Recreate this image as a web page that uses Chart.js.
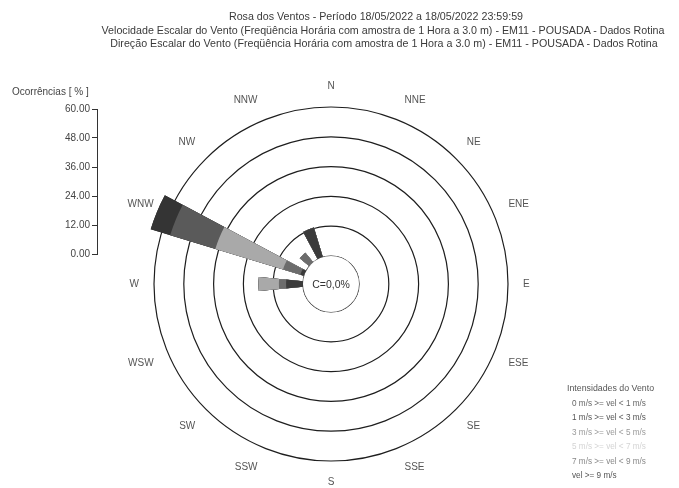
<!DOCTYPE html>
<html>
<head>
<meta charset="utf-8">
<script src="https://cdn.jsdelivr.net/npm/chart.js@4.4.0/dist/chart.umd.min.js"></script>
<style>
  html, body { margin: 0; padding: 0; background: #fff; }
  #wrap { position: relative; width: 679px; height: 488px; overflow: hidden; font-family: 'Liberation Sans', Arial, sans-serif; }
  canvas { position: absolute; }
  #rose { left: 0; top: 0; }
  #axis { left: 0; top: 100px; }
  .tl { position: absolute; transform: translateX(-50%); white-space: nowrap; font-size: 10.7px; line-height: 12px; color: #3a3a3a; }
  #ylab { position: absolute; left: 12px; top: 86px; font-size: 10px; line-height: 12px; color: #444; white-space: nowrap; }
  .lg { position: absolute; white-space: nowrap; font-size: 8.2px; line-height: 10px; }
</style>
</head>
<body>
<div id="wrap">
  <canvas id="rose" width="679" height="488"></canvas>
  <canvas id="axis" width="100" height="162"></canvas>
  <div id="ylab">Ocorrências [ % ]</div>
  <div id="texts"></div>
</div>
<script>
// wind rose - 18/05/2022, EM11 POUSADA
const titleLines = [
    'Rosa dos Ventos - Período  18/05/2022 a 18/05/2022 23:59:59',
    'Velocidade Escalar do Vento (Freqüência Horária com amostra de 1 Hora a 3.0 m) - EM11 - POUSADA - Dados Rotina',
    'Direção Escalar do Vento (Freqüência Horária com amostra de 1 Hora a 3.0 m) - EM11 - POUSADA - Dados Rotina'
];
const directions = ['N', 'NNE', 'NE', 'ENE', 'E', 'ESE', 'SE', 'SSE', 'S', 'SSW', 'SW', 'WSW', 'W', 'WNW', 'NW', 'NNW'];
const speedClasses = [
    '0 m/s >= vel < 1 m/s',
    '1 m/s >= vel < 3 m/s',
    '3 m/s >= vel < 5 m/s',
    '5 m/s >= vel < 7 m/s',
    '7 m/s >= vel < 9 m/s',
    'vel >= 9 m/s'
];
// % of occurrences per direction (same order as directions)
const vel0to1 = [0, 0, 0, 0, 0, 0, 0, 0, 0, 0, 0, 0, 6.8, 1.6, 0, 12.5];
const vel1to3 = [0, 0, 0, 0, 0, 0, 0, 0, 0, 0, 0, 0, 2.9, 7.3, 5.0, 0];
const vel3to5 = [0, 0, 0, 0, 0, 0, 0, 0, 0, 0, 0, 0, 8.2, 28.5, 0, 0];
const vel5to7 = [0, 0, 0, 0, 0, 0, 0, 0, 0, 0, 0, 0, 0, 19.0, 0, 0];
const vel7to9 = [0, 0, 0, 0, 0, 0, 0, 0, 0, 0, 0, 0, 0, 8.2, 0, 0];
const vel9up = [0, 0, 0, 0, 0, 0, 0, 0, 0, 0, 0, 0, 0, 0, 0, 0];
const calmPct = 0.0;
const ringTicks = [0, 12, 24, 36, 48, 60];

const classValues = [vel0to1, vel1to3, vel3to5, vel5to7, vel7to9, vel9up];
const classColors = ['#3b3b3b', '#6c6c6c', '#a9a9a9', '#5a5a5a', '#343434', '#2c2c2c'];
const legendColors = ['#666', '#555', '#999', '#d4d4d4', '#888', '#555'];
const fontFamily = "'Liberation Sans', Arial, sans-serif";

// each direction gets a slot for its petal plus an empty slot -> petals are half a sector wide
const slotLabels = [];
directions.forEach(d => slotLabels.push(d, ''));
function toSlots(values) {
    const out = [];
    values.forEach(v => out.push(v, 0));
    return out;
}

// stacked petals: cumulative radius, first dataset is drawn on top
let running = directions.map(() => 0);
const datasets = classValues.map((vals, k) => {
    running = running.map((r, i) => r + vals[i]);
    return {
        label: speedClasses[k],
        data: toSlots(running),
        backgroundColor: classColors[k],
        borderWidth: 0
    };
});

const calmPlugin = {
    id: 'calm',
    afterDatasetsDraw(chart) {
        const r = chart.scales.r;
        const ctx = chart.ctx;
        const rad = r.getDistanceFromCenterForValue(0);
        ctx.save();
        ctx.beginPath();
        ctx.arc(r.xCenter, r.yCenter, rad, 0, Math.PI * 2);
        ctx.fillStyle = '#fff';
        ctx.fill();
        ctx.font = '10.5px ' + fontFamily;
        ctx.fillStyle = '#333';
        ctx.textAlign = 'center';
        ctx.textBaseline = 'middle';
        ctx.fillText('C=' + calmPct.toFixed(1).replace('.', ',') + '%', r.xCenter, r.yCenter + 1);
        ctx.restore();
    }
};

new Chart(document.getElementById('rose'), {
    type: 'polarArea',
    data: { labels: slotLabels, datasets: datasets },
    plugins: [calmPlugin],
    options: {
        responsive: false,
        animation: false,
        layout: { padding: { top: 80, bottom: 0, left: 0, right: 17 } },
        plugins: {
            legend: { display: false },
            tooltip: { enabled: false }
        },
        scales: {
            r: {
                z: 1,
                min: -11.28,
                max: 60,
                bounds: 'data',
                startAngle: -5.625,
                afterBuildTicks: (scale) => { scale.ticks = ringTicks.map(v => ({ value: v })); },
                ticks: { display: false },
                angleLines: { display: false },
                grid: { circular: true, color: '#1e1e1e', lineWidth: 1.2 },
                pointLabels: {
                    display: true,
                    centerPointLabels: true,
                    padding: 15,
                    color: '#555',
                    font: { size: 10, family: fontFamily }
                }
            }
        }
    }
});

// left scale for occurrences
new Chart(document.getElementById('axis'), {
    type: 'scatter',
    data: { datasets: [] },
    options: {
        responsive: false,
        animation: false,
        layout: { padding: { top: 9, bottom: 8, left: 0, right: 0 } },
        plugins: { legend: { display: false }, tooltip: { enabled: false } },
        scales: {
            x: { display: false },
            y: {
                min: 0,
                max: 60,
                afterFit: (s) => { s.width = 97; },
                afterBuildTicks: (s) => { s.ticks = ringTicks.map(v => ({ value: v })); },
                ticks: { callback: v => v.toFixed(2), color: '#444', padding: 2, font: { size: 10, family: fontFamily } },
                grid: { drawOnChartArea: false, tickLength: 5, color: '#333' },
                border: { display: true, color: '#333' }
            }
        }
    }
});

// title + legend text
const texts = document.getElementById('texts');
const titleTops = [10, 24, 37];
const titleCenters = [376, 383, 384];
titleLines.forEach((t, i) => {
    const d = document.createElement('div');
    d.className = 'tl';
    d.style.top = titleTops[i] + 'px';
    d.style.left = titleCenters[i] + 'px';
    d.textContent = t;
    texts.appendChild(d);
});
const lgTitle = document.createElement('div');
lgTitle.className = 'lg';
lgTitle.style.left = '567px';
lgTitle.style.top = '383px';
lgTitle.style.color = '#555';
lgTitle.style.fontSize = '8.8px';
lgTitle.textContent = 'Intensidades do Vento';
texts.appendChild(lgTitle);
speedClasses.forEach((s, i) => {
    const d = document.createElement('div');
    d.className = 'lg';
    d.style.left = '572px';
    d.style.top = (399 + i * 14.4) + 'px';
    d.style.color = legendColors[i];
    d.textContent = s;
    texts.appendChild(d);
});
</script>
</body>
</html>
